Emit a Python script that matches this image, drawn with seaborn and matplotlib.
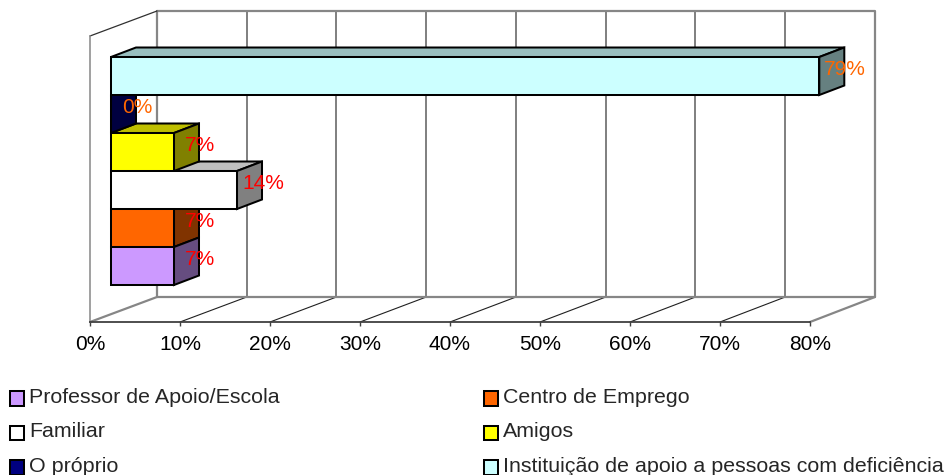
import matplotlib
matplotlib.use("Agg")
import matplotlib.pyplot as plt
import seaborn as sns
import pandas as pd
from matplotlib.legend_handler import HandlerPatch
from matplotlib.patches import Patch, Polygon, Rectangle

categories = ["Instituição de apoio a pessoas com deficiência", "O próprio", "Amigos",
              "Familiar", "Centro de Emprego", "Professor de Apoio/Escola"]
values = [78.7, 0, 7, 14, 7, 7]
bar_colors = ["#CCFFFF", "#000080", "#FFFF00", "#FFFFFF", "#FF6600", "#CC99FF"]
label_colors = ["#FF6600", "#FF6600", "#FF0000", "#FF0000", "#FF0000", "#FF0000"]
x_ticks = [0, 10, 20, 30, 40, 50, 60, 70, 80]
legend_order = [5, 3, 1, 4, 2, 0]

sns.set_theme(style="white")
plt.rcParams['font.family'] = ['Liberation Sans', 'DejaVu Sans']

W, H = 949, 475
PX_X = 9.0    # px per 1% along the front of the floor
PX_Y = 38.0   # px per category
BASE = 21 / PX_X           # bars start this far behind the floor's front edge
BACK_DX, BACK_DY = 67 / PX_X, 25 / PX_Y    # wall depth
BAR_DX, BAR_DY = 25 / PX_X, 9.5 / PX_Y     # bar depth
BACK_SCALE = 718 / 720     # back wall is slightly narrower than the front
GRAY = "#868686"
FS = 15
EDGE = 1.45

df = pd.DataFrame({"source": categories, "share": values})

fig = plt.figure(figsize=(W / 100, H / 100), dpi=100)
ax = fig.add_axes([90 / W, (H - 322) / H, 720 / W, 286 / H])

sns.barplot(data=df, y="source", x="share", hue="source", order=categories, hue_order=categories,
            palette=bar_colors, dodge=False, legend=False, width=1.0, saturation=1,
            edgecolor="black", linewidth=EDGE, ax=ax)

ax.set_xlim(-BASE, 80 - BASE)
ax.set_ylim((322 - 76) / PX_Y, (36 - 76) / PX_Y)
ax.set_xlabel("")
ax.set_ylabel("")
ax.set_yticks([])
ax.set_xticks([t - BASE for t in x_ticks])
ax.set_xticklabels([f"{t}%" for t in x_ticks], fontsize=FS, color="black")
ax.tick_params(axis="x", length=3, width=1.0, color="#404040", pad=6, bottom=True)
for side in ["top", "right"]:
    ax.spines[side].set_visible(False)
ax.spines["bottom"].set_color("#404040")
ax.spines["bottom"].set_linewidth(1.3)
ax.spines["left"].set_color(GRAY)
ax.spines["left"].set_linewidth(1.1)

# walls and floor of the 3d box
x0, y_floor, y_top = -BASE, ax.get_ylim()[0], ax.get_ylim()[1]
back_x = lambda t: x0 + BACK_DX + t * BACK_SCALE
back_floor, back_top = y_floor - BACK_DY, y_top - BACK_DY
for t in x_ticks[1:-1]:
    ax.plot([back_x(t), back_x(t)], [back_floor, back_top], color="#6a6a6a", lw=1.2, zorder=0.5, clip_on=False)
    ax.plot([x0 + t, back_x(t)], [y_floor, back_floor], color="#202020", lw=0.8, zorder=0.5, clip_on=False)
ax.plot([back_x(0), back_x(80), back_x(80), back_x(0), back_x(0)],
        [back_top, back_top, back_floor, back_floor, back_top],
        color=GRAY, lw=1.6, zorder=0.6, clip_on=False)
ax.plot([x0, back_x(0)], [y_floor, back_floor], color=GRAY, lw=1.6, zorder=0.6, clip_on=False)
ax.plot([x0 + 80, back_x(80)], [y_floor, back_floor], color=GRAY, lw=1.6, zorder=0.6, clip_on=False)
ax.plot([x0, back_x(0)], [y_top, back_top], color="#303030", lw=0.9, zorder=0.6, clip_on=False)


def shade(col, k):
    r, g, b = matplotlib.colors.to_rgb(col)
    return (r * k, g * k, b * k)


# tops go under the sides, and the fronts go over everything
for i, bar in enumerate(ax.patches):
    x, y, w, h = bar.get_x(), bar.get_y(), bar.get_width(), bar.get_height()
    col = bar_colors[i]
    bar.set_zorder(20 + i)
    bar.set_clip_on(False)
    top = [(x, y), (x + BAR_DX, y - BAR_DY), (x + w + BAR_DX, y - BAR_DY), (x + w, y)]
    right = [(x + w, y), (x + w + BAR_DX, y - BAR_DY), (x + w + BAR_DX, y + h - BAR_DY), (x + w, y + h)]
    ax.add_patch(Polygon(top, closed=True, fc=shade(col, 0.75), ec="black", lw=EDGE, zorder=2 + i, clip_on=False))
    ax.add_patch(Polygon(right, closed=True, fc=shade(col, 0.5), ec="black", lw=EDGE, zorder=10 + i, clip_on=False))
    ax.text(x + w + BAR_DX + 1 / PX_X, y + h / 2 - 6.5 / PX_Y, f"{values[i]:.0f}%", color=label_colors[i],
            fontsize=FS, ha="center", va="center", zorder=30, clip_on=False)


def low_box(legend, orig_handle, xdescent, ydescent, width, height, fontsize):
    # the key boxes sit a little below the text
    return Rectangle((-xdescent, -ydescent - 2.2), width, height)


handles = [Patch(facecolor=bar_colors[i], edgecolor="black", linewidth=EDGE, label=categories[i]) for i in legend_order]
fig.legend(handles=handles, ncol=2, frameon=False, fontsize=15.4, loc="upper left",
           bbox_to_anchor=(10 / W, 1 - 388 / H), bbox_transform=fig.transFigure, borderpad=0, borderaxespad=0,
           handlelength=0.66, handleheight=0.66, handletextpad=0.25, labelspacing=0.72, columnspacing=9.53,
           handler_map={Patch: HandlerPatch(patch_func=low_box)})

fig.savefig("out.png", dpi=100)
